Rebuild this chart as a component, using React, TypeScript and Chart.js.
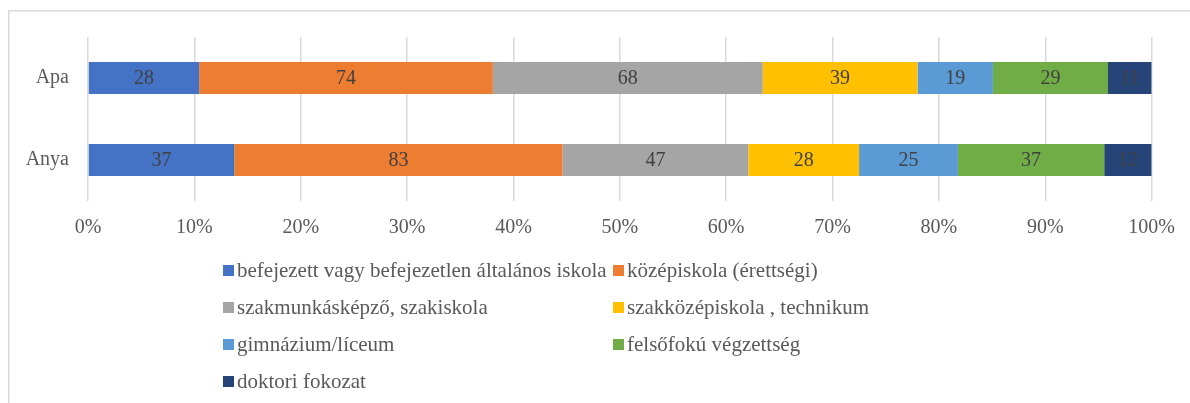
import React, { useEffect, useRef } from "react";
import { Chart, registerables } from "chart.js";

Chart.register(...registerables);

const categories = ["Apa", "Anya"];
const seriesNames = [
  "befejezett vagy befejezetlen általános iskola",
  "középiskola (érettségi)",
  "szakmunkásképző, szakiskola",
  "szakközépiskola , technikum",
  "gimnázium/líceum",
  "felsőfokú végzettség",
  "doktori fokozat",
];
const seriesColors = ["#4472C4", "#ED7D31", "#A5A5A5", "#FFC000", "#5B9BD5", "#70AD47", "#264478"];
const apaValues = [28, 74, 68, 39, 19, 29, 11];
const anyaValues = [37, 83, 47, 28, 25, 37, 12];
const tickValues = [0, 10, 20, 30, 40, 50, 60, 70, 80, 90, 100];

const FONT = "'Liberation Serif', 'Times New Roman', serif";

export default function App() {
  const ref = useRef<HTMLCanvasElement | null>(null);
  useEffect(() => {
    if (!ref.current) return;
    const rows = [apaValues, anyaValues];
    const totals = rows.map((r) => r.reduce((a, b) => a + b, 0));
    const datasets = seriesNames.map((name, i) => ({
      label: name,
      data: rows.map((r, ci) => (r[i] / totals[ci]) * 100),
      raw: rows.map((r) => r[i]),
      backgroundColor: seriesColors[i],
      borderWidth: 0,
      categoryPercentage: 1,
      barPercentage: 0.39,
    }));

    const frame = {
      id: "frame",
      beforeDraw(chart: any) {
        const ctx = chart.ctx;
        ctx.save();
        ctx.fillStyle = "#ffffff";
        ctx.fillRect(0, 0, chart.width, chart.height);
        ctx.strokeStyle = "#d9d9d9";
        ctx.lineWidth = 1.5;
        ctx.strokeRect(8.75, 10.75, chart.width + 20, chart.height + 20);
        ctx.restore();
      },
    };

    const labels = {
      id: "valueLabels",
      afterDatasetsDraw(chart: any) {
        const ctx = chart.ctx;
        ctx.save();
        ctx.font = `20px ${FONT}`;
        ctx.fillStyle = "#404040";
        ctx.textAlign = "center";
        ctx.textBaseline = "middle";
        chart.data.datasets.forEach((ds: any, di: number) => {
          const meta = chart.getDatasetMeta(di);
          meta.data.forEach((el: any, idx: number) => {
            const x = (el.x + el.base) / 2;
            ctx.fillText(String(ds.raw[idx]), x, el.y + 1);
          });
        });
        ctx.restore();
      },
    };

    const legend = {
      id: "gridLegend",
      afterDraw(chart: any) {
        const ctx = chart.ctx;
        const colX = [223, 613];
        const rowY = [270, 307, 344, 381];
        ctx.save();
        ctx.font = `21px ${FONT}`;
        ctx.textBaseline = "middle";
        ctx.textAlign = "left";
        chart.data.datasets.forEach((ds: any, i: number) => {
          const x = colX[i % 2];
          const y = rowY[Math.floor(i / 2)];
          ctx.fillStyle = ds.backgroundColor;
          ctx.fillRect(x, y - 5, 11, 11);
          ctx.fillStyle = "#595959";
          ctx.fillText(ds.label, x + 14, y + 1);
        });
        ctx.restore();
      },
    };

    const chart = new Chart(ref.current, {
      type: "bar",
      data: { labels: categories, datasets: datasets as any },
      options: {
        indexAxis: "y",
        animation: false,
        responsive: false,
        maintainAspectRatio: false,
        layout: { padding: { left: 0, right: 38, top: 37, bottom: 162 } },
        plugins: { legend: { display: false }, tooltip: { enabled: false } },
        scales: {
          x: {
            stacked: true,
            min: 0,
            max: 100,
            afterBuildTicks(scale: any) {
              scale.ticks = tickValues.map((v) => ({ value: v }));
            },
            afterFit(scale: any) {
              scale.height = 40;
            },
            grid: { color: "#d9d9d9", lineWidth: 1.5, drawTicks: false },
            border: { display: false },
            ticks: {
              padding: 15,
              color: "#595959",
              font: { family: FONT, size: 20 },
              callback: (v: any) => `${v}%`,
            },
          },
          y: {
            stacked: true,
            afterFit(scale: any) {
              scale.width = 88;
            },
            grid: { display: false, drawTicks: false },
            border: { display: false },
            ticks: {
              padding: 19,
              color: "#595959",
              font: { family: FONT, size: 20 },
            },
          },
        },
      },
      plugins: [frame, labels, legend],
    });
    return () => chart.destroy();
  }, []);

  return (
    <div style={{ position: "fixed", left: 0, top: 0, width: 1190, height: 403, background: "#fff" }}>
      <canvas ref={ref} width={1190} height={403} style={{ width: 1190, height: 403, display: "block" }} />
    </div>
  );
}
